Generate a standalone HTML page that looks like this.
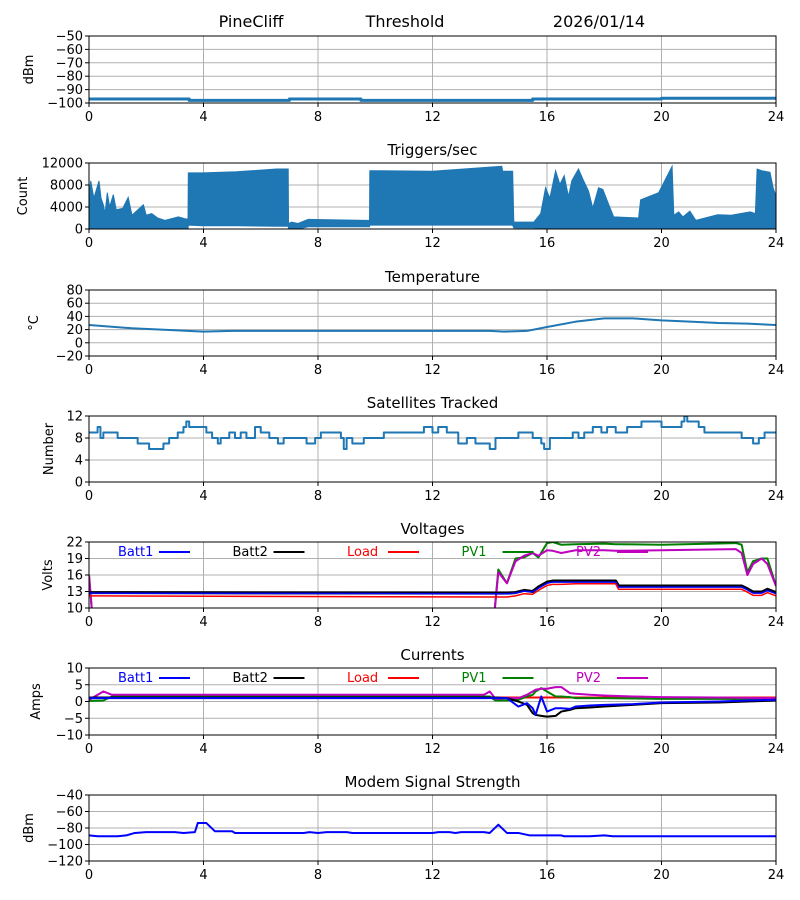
<!DOCTYPE html>
<html><head><meta charset="utf-8">
<style>
html,body{margin:0;padding:0;background:#fff;}
svg{display:block;font-family:"DejaVu Sans","Liberation Sans",sans-serif;}
</style></head>
<body>
<svg id="fig" width="800" height="900" viewBox="0 0 800 900">
<text x="251" y="27" font-size="16" text-anchor="middle">PineCliff</text>
<text x="405" y="27" font-size="16" text-anchor="middle">Threshold</text>
<text x="599" y="27" font-size="16" text-anchor="middle">2026/01/14</text>
</svg>
<script>
// ---- data ----
const hourTicks = [0,4,8,12,16,20,24];
const rssiHours = [0,3.5,3.5,7,7,9.5,9.5,15.5,15.5,20,20,24];
const rssiValues = [-97,-97,-98,-98,-97,-97,-98,-98,-97,-97,-96.5,-96.5];
const rssiTicks = [-50,-60,-70,-80,-90,-100];
const trigHours = [0,0.06,0.17,0.35,0.42,0.5,0.56,0.64,0.72,0.85,0.95,1.18,1.37,1.5,1.9,2.0,2.19,2.4,2.66,3.12,3.4,3.46,3.47,3.98,5.15,6.55,6.96,6.97,7.08,7.3,7.66,9.64,9.80,9.81,12,14.42,14.45,14.8,14.84,15.54,15.78,15.95,16.1,16.3,16.45,16.6,16.75,16.87,17.1,17.25,17.45,17.6,17.8,17.95,18.16,18.33,19.2,19.27,19.9,20.37,20.43,20.6,20.75,20.99,21.2,21.96,22.43,23.1,23.28,23.34,23.5,23.79,23.9,24];
const trigMax = [6000,8750,5600,8750,5600,4400,2800,6600,4000,6250,3500,3750,5750,2500,4400,2500,2800,2000,1560,2200,1800,1900,10200,10200,10400,10900,10900,1000,1250,1000,1750,1560,1560,10600,10500,11400,10500,10500,1250,1250,2800,7500,5600,10600,8100,9700,5900,8800,10900,9100,6900,3800,7500,7200,4400,2200,2000,5300,6600,11400,2500,3100,2200,3250,1560,2600,2500,3100,2800,10900,10600,10300,7500,6000];
const trigMin = [0,0,0,0,0,0,0,0,0,0,0,0,0,0,0,0,0,0,0,0,0,0,700,600,600,500,500,0,200,0,400,400,400,700,700,700,700,700,200,200,0,0,0,0,0,0,0,0,0,0,0,0,0,0,0,0,0,0,0,0,0,0,0,0,0,0,0,0,0,0,0,0,0,0];
const trigTicks = [0,4000,8000,12000];
const tempHours = [0,1.5,3,4,5,14,14.5,15.3,16,17,18,19,20,21,22,23,24];
const tempValues = [27,22,19,17,18,18,17,18,24,32,37,37,34,32,30,29,27];
const tempTicks = [-20,0,20,40,60,80];
const satHours = [0,0.3,0.4,0.5,0.8,1.0,1.5,1.7,2.0,2.1,2.6,2.8,3.1,3.3,3.4,3.5,4.0,4.1,4.3,4.5,4.6,4.9,5.1,5.3,5.5,5.8,6.0,6.3,6.6,6.8,7.4,7.6,7.9,8.1,8.8,8.9,9.0,9.2,9.6,10.0,10.3,11.4,11.7,12.0,12.2,12.5,12.9,13.2,13.5,13.9,14.0,14.2,14.8,15.0,15.5,15.8,15.9,16.1,16.9,17.1,17.3,17.6,17.9,18.1,18.4,18.8,19.3,20.0,20.7,20.8,20.9,21.3,21.5,22.8,23.2,23.4,23.6,24];
const satValues = [9,10,8,9,9,8,8,7,7,6,7,8,9,10,11,10,10,9,8,7,8,9,8,9,8,10,9,8,7,8,8,7,8,9,8,6,8,7,8,8,9,9,10,9,10,9,7,8,7,7,6,8,8,9,8,7,6,8,9,8,9,10,9,10,9,10,11,10,11,12,11,10,9,8,7,8,9,9];
const satTicks = [0,4,8,12];
const vHours = [0,0.25,14,14.3,14.6,14.9,15.2,15.5,15.7,16,16.2,16.5,17,18,18.4,18.5,20,22.6,22.8,23,23.2,23.5,23.7,24];
const vBatt1 = [12.7,12.7,12.6,12.6,12.6,12.7,13.1,12.9,13.6,14.5,14.7,14.7,14.7,14.7,14.7,13.8,13.8,13.8,13.8,13.3,12.7,12.7,13.2,12.6];
const vBatt2 = [12.8,12.8,12.7,12.7,12.7,12.8,13.2,13.0,13.8,14.7,14.9,14.9,14.9,14.9,14.9,14.0,14.0,14.0,14.0,13.5,12.9,12.9,13.4,12.8];
const vLoad = [12.2,12.2,12.0,12.0,12.0,12.2,12.6,12.5,13.2,14.1,14.3,14.3,14.4,14.4,14.4,13.4,13.4,13.4,13.4,12.9,12.3,12.3,12.8,12.2];
const vPV1 = [16,0,0,17,14.5,19,19.2,20,19.2,21.8,22,21.5,21.6,21.7,21.6,21.6,21.5,21.8,21.5,16.5,18.5,19,19,14];
const vPV2 = [16,0,0,16.5,14.5,18.5,19.5,20,19.5,20.5,20.4,20,20.5,20.5,20.4,20.4,20.5,20.7,20,16,18,19,18,14];
const vTicks = [10,13,16,19,22];
const iHours = [0,0.5,0.8,13.8,14,14.2,14.6,15,15.3,15.5,15.6,15.8,16,16.3,16.5,16.8,17,17.5,18,19,20,22,23,24];
const iBatt1 = [1,1,1,1,1,1,1,-1.5,-0.5,-2,-4,1.5,-3,-2,-2,-2.2,-1.5,-1.2,-1,-0.8,-0.3,0,0.3,0.5];
const iBatt2 = [1.2,1.2,1.2,1.2,1.2,1.2,1.0,0,-1,-3.5,-4,-4.3,-4.5,-4.3,-3,-2.5,-2,-1.8,-1.5,-1,-0.5,-0.3,0,0.3];
const iLoad = [1.2,1.2,1.2,1.2,1.2,1.2,1.2,1.2,1.2,1.2,1.2,1.2,1.2,1.2,1.2,1.2,1.2,1.2,1.2,1.2,1.2,1.2,1.2,1.2];
const iPV1 = [0.2,0.3,1.5,1.5,1.5,0.3,0.3,0.5,1.5,2,3,4,3,1.5,1.5,1.3,1,1,1,0.9,0.8,0.8,0.7,0.7];
const iPV2 = [0.5,3,2,2,3,0.8,1,1,2,3,3.5,3.8,3.8,4.3,4.3,2.5,2.3,2,1.8,1.5,1.3,1.2,1.1,1];
const iTicks = [-10,-5,0,5,10];
const mHours = [0,0.3,1,1.3,1.6,2,3,3.3,3.7,3.8,4.1,4.4,5,5.1,7.5,7.7,8,8.3,9,9.2,12,12.2,12.6,12.8,13,13.8,14,14.3,14.6,15,15.4,16.5,16.6,17.5,18,18.3,24];
const mValues = [-89,-90,-90,-89,-86,-85,-85,-86,-85,-74,-74,-84,-84,-86,-86,-85,-86,-85,-85,-86,-86,-85,-85,-86,-85,-85,-86,-76,-86,-86,-89,-89,-90,-90,-89,-90,-90];
const mTicks = [-120,-100,-80,-60,-40];

// ---- drawing ----
const NS='http://www.w3.org/2000/svg';
const svg=document.getElementById('fig');
const X0=89,X1=776;
function el(tag,attrs,parent){const e=document.createElementNS(NS,tag);for(const k in attrs)e.setAttribute(k,attrs[k]);(parent||svg).appendChild(e);return e;}
function xs(h){return X0+(h/24)*(X1-X0);}
function makePanel(key,top,bot,ymin,ymax,ticks,title,ylabel,ylabelX){
  const g=el('g',{});
  
  
  const ys=v=>bot-(v-ymin)/(ymax-ymin)*(bot-top);
  hourTicks.forEach(h=>{const l=el('line',{x1:xs(h),x2:xs(h),y1:top,y2:bot,stroke:'#b0b0b0','stroke-width':1},g);
    });
  ticks.forEach(t=>{const l=el('line',{x1:X0,x2:X1,y1:ys(t),y2:ys(t),stroke:'#b0b0b0','stroke-width':1},g);
    });
  const clip=el('clipPath',{id:'clip-'+key},g);el('rect',{x:X0,y:top,width:X1-X0,height:bot-top},clip);
  const plot=el('g',{'clip-path':'url(#clip-'+key+')'},g);
  
  const fr=el('rect',{x:X0,y:top,width:X1-X0,height:bot-top,fill:'none',stroke:'#000','stroke-width':1},g);
  
  hourTicks.forEach(h=>{el('line',{x1:xs(h),x2:xs(h),y1:bot,y2:bot+4,stroke:'#000'},g);
    const t=el('text',{x:xs(h),y:bot+18,'font-size':13,'text-anchor':'middle'},g);t.textContent=h;
    });
  ticks.forEach(v=>{el('line',{x1:X0-4,x2:X0,y1:ys(v),y2:ys(v),stroke:'#000'},g);
    const t=el('text',{x:X0-6,y:ys(v)+4.5,'font-size':13,'text-anchor':'end'},g);t.textContent=String(v).replace('-','\u2212');
    });
  if(title){const t=el('text',{x:(X0+X1)/2,y:top-8,'font-size':15,'text-anchor':'middle'},g);t.textContent=title;
    }
  const yl=el('text',{x:ylabelX,y:(top+bot)/2,'font-size':13,'text-anchor':'middle',transform:'rotate(-90 '+ylabelX+' '+(top+bot)/2+')'},g);
  yl.textContent=ylabel;
  return {g,plot,ys};
}
function line(p,hours,vals,color,w,name,step){
  let d='';
  hours.forEach((h,i)=>{
    if(i===0)d+='M'+xs(h)+','+p.ys(vals[i]);
    else{ if(step)d+='L'+xs(h)+','+p.ys(vals[i-1]); d+='L'+xs(h)+','+p.ys(vals[i]);}
  });
  const e=el('path',{d,fill:'none',stroke:color,'stroke-width':w,'stroke-linejoin':'round'},p.plot);
  
  
  return e;
}
function legend(p,top){
  const names=['Batt1','Batt2','Load','PV1','PV2'],cols=['#0000ff','#000000','#ff0000','#008000','#bf00bf'];
  names.forEach((n,i)=>{const x=118+i*114.5;
    const t=el('text',{x:x,y:top+14,'font-size':13,fill:cols[i]},p.g);t.textContent=n;
    
    el('line',{x1:x+41,x2:x+72,y1:top+10,y2:top+10,stroke:cols[i],'stroke-width':2},p.g);});
}
const C='#1f77b4';
let p=makePanel('signal',36,103,-100,-50,rssiTicks,null,'dBm',33);
line(p,rssiHours,rssiValues,C,3,'signal-line',false);

p=makePanel('triggers',163,229,0,12000,trigTicks,'Triggers/sec','Count',27);
{let d='';trigHours.forEach((h,i)=>{d+=(i?'L':'M')+xs(h)+','+p.ys(trigMax[i]);});
 for(let i=trigHours.length-1;i>=0;i--)d+='L'+xs(trigHours[i])+','+p.ys(trigMin[i]);d+='Z';
 const a=el('path',{d,fill:C,stroke:C,'stroke-width':1},p.plot);
 }

p=makePanel('temperature',290,356,-20,80,tempTicks,'Temperature','\u00B0C',38);
line(p,tempHours,tempValues,C,2,'temperature-line',false);

p=makePanel('satellites',416,482,0,12,satTicks,'Satellites Tracked','Number',53);
line(p,satHours,satValues,C,2,'satellites-line',true);

p=makePanel('voltages',542,608,10,22,vTicks,'Voltages','Volts',52);
line(p,vHours,vPV1,'#008000',2,'pv1-voltage-line');
line(p,vHours,vPV2,'#bf00bf',2,'pv2-voltage-line');
line(p,vHours,vBatt2,'#000000',3,'batt2-voltage-line');
line(p,vHours,vBatt1,'#0000ff',1.5,'batt1-voltage-line');
line(p,vHours,vLoad,'#ff0000',1.5,'load-voltage-line');
legend(p,542);

p=makePanel('currents',668,735,-10,10,iTicks,'Currents','Amps',40);
line(p,iHours,iLoad,'#ff0000',2,'load-current-line');
line(p,iHours,iPV1,'#008000',2,'pv1-current-line');
line(p,iHours,iPV2,'#bf00bf',2,'pv2-current-line');
line(p,iHours,iBatt2,'#000000',2,'batt2-current-line');
line(p,iHours,iBatt1,'#0000ff',2,'batt1-current-line');
legend(p,668);

p=makePanel('modem',795,861,-120,-40,mTicks,'Modem Signal Strength','dBm',33);
line(p,mHours,mValues,'#0000ff',2,'modem-signal-line',false);
</script>
</body></html>
